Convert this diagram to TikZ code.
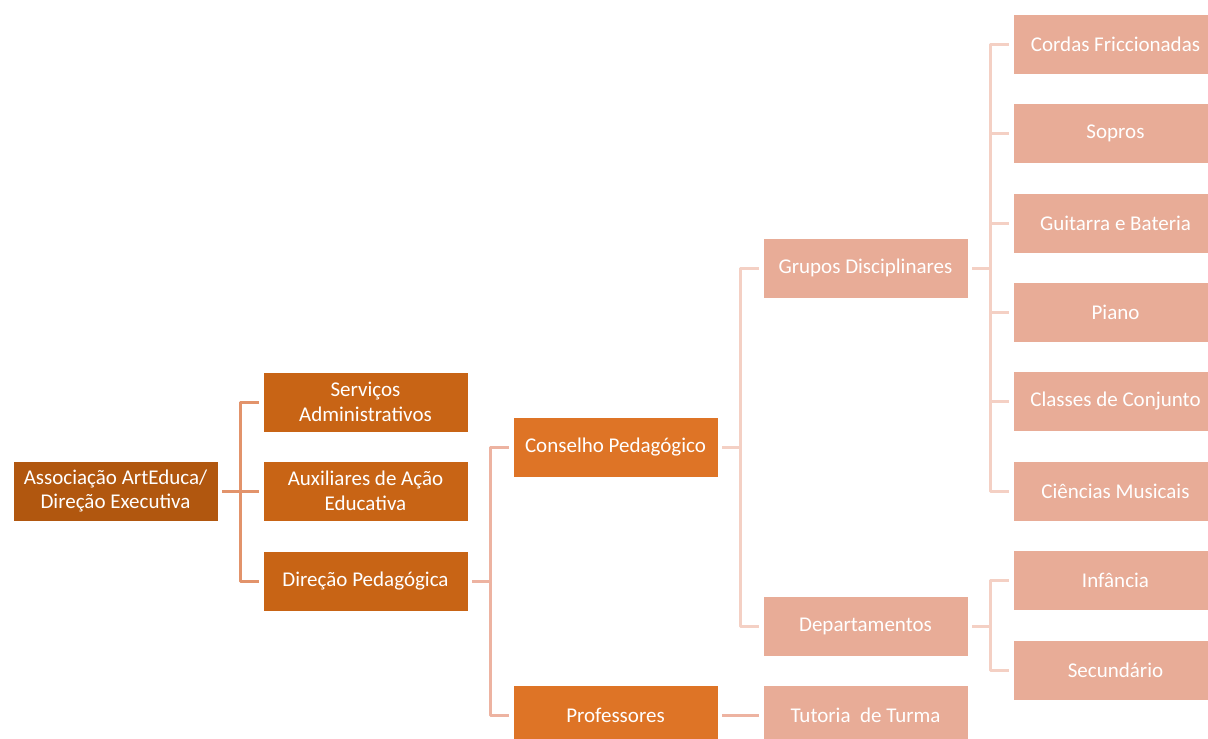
\documentclass[tikz,border=0pt]{standalone}
\usepackage{fontspec}
\setmainfont{Carlito}
\definecolor{boxtop}{HTML}{B1570F}
\definecolor{boxone}{HTML}{C86415}
\definecolor{boxtwo}{HTML}{DE7426}
\definecolor{boxthree}{HTML}{E8AC97}
\definecolor{lineone}{HTML}{E2936B}
\definecolor{linetwo}{HTML}{EDB3A1}
\definecolor{linethree}{HTML}{F4D0C4}
\begin{document}
\begin{tikzpicture}[x=1pt, y=-1pt, line join=round]
	\tikzset{every node/.style={font=\fontsize{21}{24.5}\selectfont, text=white, align=center, draw=white, line width=0.8pt, minimum width=205pt, minimum height=60pt, inner sep=0pt}}
	\tikzset{orgbox/.style={fill=#1}, conn/.style={draw=#1, line width=3pt}}
	\useasboundingbox (0,0) rectangle (1208,739);
	\clip (0,0) rectangle (1208,739);
	\def\colA{115.5}\def\colB{365.5}\def\colC{615.5}\def\colD{865.5}\def\colE{1115.5}
	% levels 0 and 1
	\node[orgbox=boxtop] (assoc) at (\colA,491) {Associação ArtEduca/\\Direção Executiva};
	\node[orgbox=boxone] (serv) at (\colB,402) {Serviços\\Administrativos};
	\node[orgbox=boxone] (aux) at (\colB,491) {Auxiliares de Ação\\Educativa};
	\node[orgbox=boxone] (dirped) at (\colB,581) {Direção Pedagógica};
	% level 2
	\node[orgbox=boxtwo] (conselho) at (\colC,447) {Conselho Pedagógico};
	\node[orgbox=boxtwo] (prof) at (\colC,715) {Professores};
	% level 3
	\node[orgbox=boxthree] (grupos) at (\colD,268) {Grupos Disciplinares};
	\node[orgbox=boxthree] (dep) at (\colD,626) {Departamentos};
	\node[orgbox=boxthree] (tutoria) at (\colD,715) {Tutoria~ de Turma};
	% level 4
	\node[orgbox=boxthree] (cordas) at (\colE,44) {Cordas Friccionadas};
	\node[orgbox=boxthree] (sopros) at (\colE,133) {Sopros};
	\node[orgbox=boxthree] (guitarra) at (\colE,223) {Guitarra e Bateria};
	\node[orgbox=boxthree] (piano) at (\colE,312) {Piano};
	\node[orgbox=boxthree] (classes) at (\colE,401) {Classes de Conjunto};
	\node[orgbox=boxthree] (ciencias) at (\colE,491) {Ciências Musicais};
	\node[orgbox=boxthree] (infancia) at (\colE,580) {Infância};
	\node[orgbox=boxthree] (secund) at (\colE,670) {Secundário};
	% connectors
	\foreach \c in {serv,aux,dirped}
		\draw[conn=lineone] ([xshift=4pt]assoc.east) -- ++(18,0) |- ([xshift=-4pt]\c.west);
	\foreach \c in {conselho,prof}
		\draw[conn=linetwo] ([xshift=4pt]dirped.east) -- ++(18,0) |- ([xshift=-4pt]\c.west);
	\foreach \c in {grupos,dep}
		\draw[conn=linethree] ([xshift=4pt]conselho.east) -- ++(18,0) |- ([xshift=-4pt]\c.west);
	\draw[conn=linetwo] ([xshift=4pt]prof.east) -- ([xshift=-4pt]tutoria.west);
	\foreach \c in {cordas,sopros,guitarra,piano,classes,ciencias}
		\draw[conn=linethree] ([xshift=4pt]grupos.east) -- ++(18,0) |- ([xshift=-4pt]\c.west);
	\foreach \c in {infancia,secund}
		\draw[conn=linethree] ([xshift=4pt]dep.east) -- ++(18,0) |- ([xshift=-4pt]\c.west);
\end{tikzpicture}
\end{document}
